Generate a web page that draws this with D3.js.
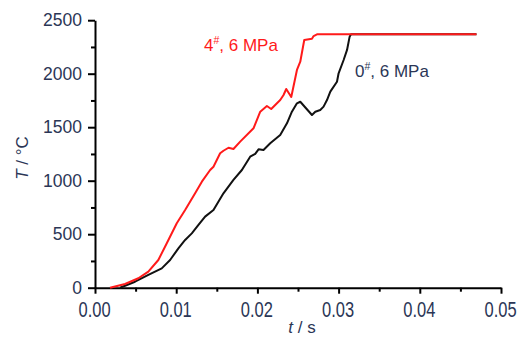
<!DOCTYPE html>
<html>
<head>
<meta charset="utf-8">
<script src="https://cdn.jsdelivr.net/npm/d3@7"></script>
<style>
  body { margin: 0; background: #fff; }
  svg text { font-family: "Liberation Sans", Arial, sans-serif; }
</style>
</head>
<body>
<svg id="chart" width="521" height="337"></svg>
<script>
// time (s) and temperature (°C)
var redT = [0.00185, 0.0037, 0.00534, 0.00657, 0.0078, 0.00884, 0.01007, 0.0111, 0.01233, 0.01316,
  0.01418, 0.01459, 0.01541, 0.01582, 0.01644, 0.01705, 0.01788, 0.01952, 0.02035, 0.02117,
  0.0217, 0.02281, 0.02322, 0.02355, 0.02417, 0.02487, 0.02528, 0.02577, 0.02672, 0.02692,
  0.02734, 0.04698];
var redV = [0, 35, 88, 150, 259, 415, 602, 726, 882, 991,
  1100, 1131, 1256, 1280, 1308, 1296, 1365, 1490, 1645, 1698,
  1670, 1754, 1801, 1857, 1782, 2035, 2112, 2315, 2327, 2352,
  2368, 2368];

var blackT = [0.00308, 0.00493, 0.00657, 0.00822, 0.00925, 0.01027, 0.0111, 0.01192, 0.01274, 0.01356,
  0.01459, 0.01582, 0.01705, 0.01809, 0.01911, 0.01973, 0.02014, 0.02075, 0.02158, 0.02281,
  0.02364, 0.02425, 0.02487, 0.02528, 0.02672, 0.02713, 0.02774, 0.02815, 0.02857, 0.02898,
  0.0298, 0.03, 0.03062, 0.03104, 0.03136, 0.03153, 0.04698];
var blackV = [0, 56, 119, 181, 259, 368, 446, 508, 586, 664,
  726, 882, 1007, 1100, 1224, 1250, 1293, 1287, 1350, 1427,
  1536, 1645, 1723, 1738, 1614, 1645, 1661, 1692, 1754, 1832,
  1925, 2004, 2128, 2222, 2346, 2368, 2368];

var xTicks = [0, 0.01, 0.02, 0.03, 0.04, 0.05];
var yTicks = [0, 500, 1000, 1500, 2000, 2500];

var textColor = "#2b3656";
var plotLeft = 95, plotTop = 20.2, plotRight = 501, plotBottom = 287.7;

var svg = d3.select("#chart");
var x = d3.scaleLinear().domain([0, 0.05]).range([plotLeft, plotRight]);
var y = d3.scaleLinear().domain([0, 2500]).range([plotBottom, plotTop]);

// minor ticks first so the major ones sit on top
svg.append("g")
  .attr("transform", "translate(0," + plotBottom + ")")
  .call(d3.axisBottom(x).tickValues(d3.range(0.005, 0.05, 0.01)).tickSize(4).tickFormat(""))
  .call(function(g) { g.select(".domain").remove(); })
  .selectAll("line").attr("stroke", "#000").attr("stroke-width", 2);
svg.append("g")
  .attr("transform", "translate(" + plotLeft + ",0)")
  .call(d3.axisLeft(y).tickValues(d3.range(250, 2500, 500)).tickSize(4).tickFormat(""))
  .call(function(g) { g.select(".domain").remove(); })
  .selectAll("line").attr("stroke", "#000").attr("stroke-width", 2);

var xAxis = svg.append("g")
  .attr("transform", "translate(0," + plotBottom + ")")
  .call(d3.axisBottom(x).tickValues(xTicks).tickSize(6).tickSizeOuter(0)
    .tickFormat(d3.format(".2f")));
var yAxis = svg.append("g")
  .attr("transform", "translate(" + plotLeft + ",0)")
  .call(d3.axisLeft(y).tickValues(yTicks).tickSize(7).tickSizeOuter(0).tickPadding(6)
    .tickFormat(d3.format("d")));

[xAxis, yAxis].forEach(function(g) {
  g.select(".domain").attr("stroke", "#000").attr("stroke-width", 2);
  g.selectAll(".tick line").attr("stroke", "#000").attr("stroke-width", 2);
  g.selectAll(".tick text").attr("fill", textColor).attr("font-size", 17.5)
    .attr("font-family", "Liberation Sans, Arial, sans-serif");
});
// x labels in the figure are drawn tall and narrow
xAxis.selectAll(".tick text")
  .attr("font-size", 16.5)
  .attr("y", 0).attr("dy", 0)
  .attr("transform", "translate(-1,29) scale(1,1.3)");

var line = d3.line()
  .x(function(d) { return x(d[0]); })
  .y(function(d) { return y(d[1]); });

svg.append("path")
  .datum(d3.zip(blackT, blackV))
  .attr("fill", "none").attr("stroke", "#111").attr("stroke-width", 2)
  .attr("stroke-linejoin", "round")
  .attr("d", line);
svg.append("path")
  .datum(d3.zip(redT, redV))
  .attr("fill", "none").attr("stroke", "#ff1a1a").attr("stroke-width", 2)
  .attr("stroke-linejoin", "round")
  .attr("d", line);

// axis titles
var yTitle = svg.append("text")
  .attr("transform", "translate(28,158) rotate(-90)")
  .attr("text-anchor", "middle").attr("fill", textColor).attr("font-size", 17);
yTitle.append("tspan").attr("font-style", "italic").text("T");
yTitle.append("tspan").text(" / \u00B0C");

var xTitle = svg.append("text")
  .attr("x", 302).attr("y", 333)
  .attr("text-anchor", "middle").attr("fill", textColor).attr("font-size", 17);
xTitle.append("tspan").attr("font-style", "italic").text("t");
xTitle.append("tspan").text(" / s");

// curve labels
function label(xp, yp, num, color) {
  var t = svg.append("text").attr("x", xp).attr("y", yp)
    .attr("fill", color).attr("font-size", 17);
  t.append("tspan").text(num);
  t.append("tspan").attr("font-size", 10.5).attr("dy", -7.5).text("#");
  t.append("tspan").attr("dy", 7.5).text(", 6 MPa");
}
label(204, 51, "4", "#ff1a1a");
label(355, 77, "0", textColor);
</script>
</body>
</html>
